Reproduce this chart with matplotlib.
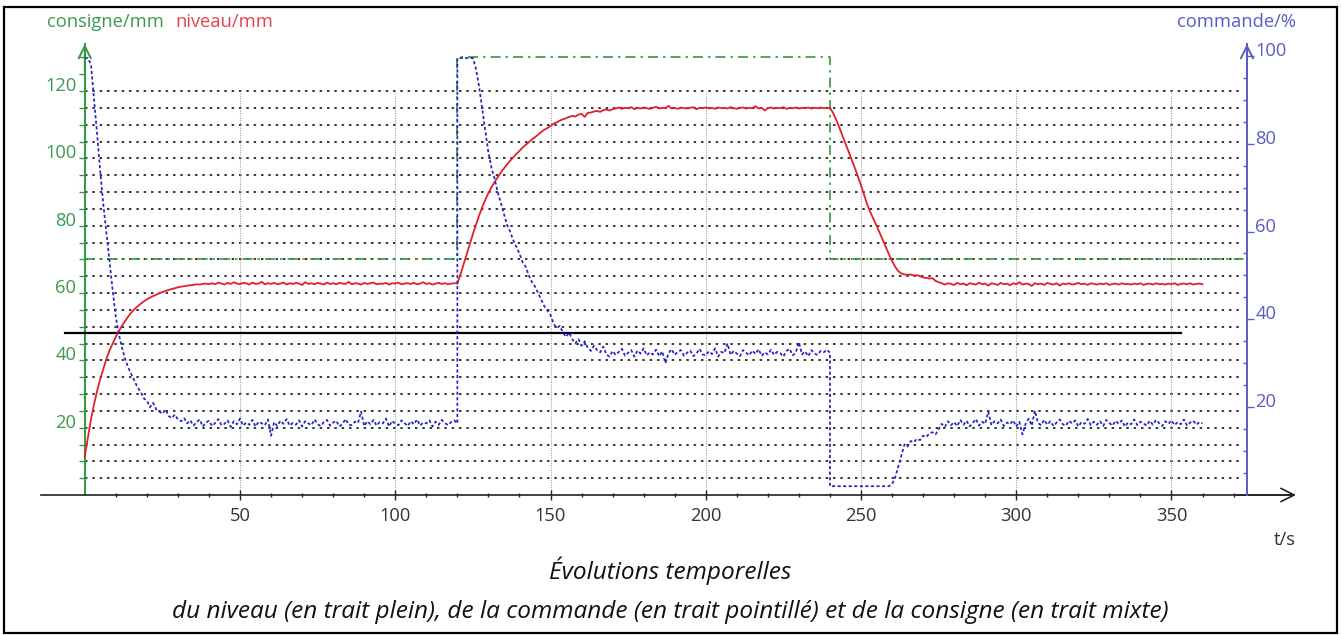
import numpy as np
import matplotlib
matplotlib.use("Agg")
import matplotlib.pyplot as plt
from matplotlib.patches import Rectangle

# ---------------- data ----------------
# niveau (mm), one sample per second, t = 0 .. 360 s
niveau_t = np.arange(0, 361)
niveau_1 = [11.5, 17.0, 22.5, 27.0, 31.0, 34.5, 37.5, 40.5, 43.0, 45.0,
            47.0, 48.7, 50.3, 51.7, 53.0, 54.2, 55.2, 56.0, 56.8, 57.5,
            58.1, 58.6, 59.1, 59.5, 59.9, 60.3, 60.6, 60.9, 61.2, 61.4,
            61.7, 61.9, 62.0, 62.2, 62.3, 62.4, 62.6, 62.5, 62.7, 62.8,
            62.6]
niveau_2 = [62.9, 62.6, 63.1, 62.8, 62.5, 63.0, 62.7, 63.2, 62.8, 62.6,
            63.0, 62.9, 62.5, 63.1, 62.7, 62.8, 63.3, 62.6, 62.9, 62.7,
            63.0, 62.6, 62.8, 63.1, 62.5, 62.9, 62.7, 63.0, 62.8, 62.4,
            63.2, 62.7, 62.9, 62.6, 63.0, 62.8, 62.5, 63.1, 62.7, 62.9,
            62.6, 63.0, 62.8, 62.7, 63.3, 62.6, 62.9, 62.8, 62.5, 63.0,
            62.7, 62.9, 63.1, 62.6, 62.8, 62.7, 63.0, 62.5, 62.9, 62.8,
            63.1, 62.6, 62.8, 62.9, 62.7, 63.0, 62.6, 62.8, 63.2, 62.7,
            62.9, 62.5, 62.8, 63.0, 62.7, 62.9, 62.6, 62.8, 62.9]
niveau_3 = [62.8, 65.5, 68.5, 71.5, 74.5, 77.5, 80.3, 83.0, 85.5, 87.7,
            89.7, 91.4, 93.0, 94.4, 95.8, 97.0, 98.2, 99.3, 100.3, 101.3,
            102.2, 103.2, 104.0, 104.8, 105.6, 106.3, 107.0, 107.8, 108.5, 109.0,
            109.6, 110.3, 110.7, 111.2, 111.6, 111.9, 112.3, 112.6, 112.4, 113.0,
            113.2, 112.3, 113.5, 113.6, 113.9, 114.1, 113.8, 114.3, 114.5, 114.2,
            114.6]
niveau_4 = [114.8, 115.1, 114.7, 115.0, 114.9, 115.2, 114.6, 115.0, 114.8, 115.1,
            114.9, 114.7, 115.0, 115.3, 114.8, 115.0, 114.9, 115.6, 114.8, 115.0,
            114.7, 115.1, 114.9, 114.8, 115.0, 115.2, 114.6, 115.0, 114.9, 115.1,
            114.8, 115.0, 114.7, 115.1, 114.9, 115.0, 114.8, 115.2, 114.9, 114.7,
            115.0, 115.1, 114.8, 115.0, 114.9, 115.5, 114.8, 115.0, 114.2, 114.9,
            115.1, 114.8, 115.0, 114.9, 115.2, 114.7, 115.0, 114.9, 115.1, 114.8,
            115.0, 114.9, 115.1, 114.8, 115.0, 114.9, 115.1, 114.9, 115.0]
niveau_5 = [115.0, 113.5, 111.5, 109.2, 106.8, 104.4, 102.0, 99.6, 97.2, 94.6,
            92.0, 89.2, 86.3, 84.0, 82.0, 80.0, 77.9, 75.8, 73.6, 71.5,
            69.5, 67.8, 66.5, 65.8, 65.5, 65.4, 65.5, 65.2, 65.3, 65.0,
            64.6, 64.5, 64.3, 64.4, 63.6, 63.2, 62.9]
niveau_6 = [62.5, 62.9, 62.7, 62.4, 63.0, 62.6, 62.8, 62.3, 62.9, 62.7,
            62.5, 63.1, 62.6, 62.8, 62.2, 62.9, 62.7, 62.4, 63.0, 62.6,
            62.8, 62.3, 62.9, 62.6, 63.2, 62.5, 62.8, 62.7, 62.1, 62.9,
            62.6, 62.8, 62.4, 63.0, 62.7, 62.5, 62.9, 62.2, 62.8, 62.6,
            62.9, 62.5, 62.7, 63.0, 62.6, 62.8, 62.4, 62.9, 62.7, 62.5,
            62.8, 62.6, 62.9, 62.4, 62.7, 62.8, 62.5, 62.9, 62.6, 62.7,
            62.5, 62.8, 62.6, 62.9, 62.4, 62.7, 62.8, 62.5, 62.9, 62.6,
            62.7, 62.5, 62.8, 62.6, 62.9, 62.4, 62.7, 62.8, 62.6, 62.9,
            62.5, 62.7, 62.8, 62.6]
niveau = niveau_1 + niveau_2 + niveau_3 + niveau_4 + niveau_5 + niveau_6

# commande (%), one sample per second, each phase includes its end instant
commande_t = np.concatenate([np.arange(0, 121), np.arange(120, 241), np.arange(240, 361)])
commande_1 = [99.5, 99.5, 98.0, 90.0, 82.0, 73.5, 66.0, 59.5, 53.0, 46.5,
              40.5, 36.5, 33.5, 31.0, 29.0, 27.5, 26.0, 24.5, 23.5, 22.0,
              21.5, 20.0, 21.0, 19.5, 19.0, 18.5, 19.5, 18.0, 17.5, 18.3,
              17.2, 16.8, 17.5, 16.3, 17.0, 15.8, 16.6, 17.2, 15.6, 16.5,
              16.9, 15.7, 16.4, 17.3, 15.9, 16.2, 17.0, 15.5, 16.8, 16.1,
              17.4, 15.8, 16.5, 16.0, 17.1, 15.6, 16.7, 16.3, 15.9, 17.2,
              13.5, 16.6, 15.7, 16.9, 16.2, 17.3, 15.8, 16.4, 16.0, 17.0,
              15.6, 16.8, 16.3, 15.9, 17.2, 16.1, 15.7, 16.6, 17.1, 15.8,
              16.5, 16.9, 15.6, 16.2, 17.3, 16.0, 15.9, 16.7, 16.4, 19.0,
              15.7, 16.8, 16.1, 17.1, 15.8, 16.6, 16.3, 17.4, 15.6, 16.9,
              16.2, 15.9, 17.0, 16.4, 15.7, 16.8, 16.1, 17.2, 15.8, 16.5,
              16.3, 17.0, 15.6, 16.7, 16.0, 17.1, 16.4, 15.9, 16.6, 17.0,
              16.3]
commande_2 = [99.5, 99.5, 99.5, 99.5, 99.5, 99.5, 97.0, 93.0, 88.0, 83.0,
              78.0, 74.5, 72.0, 69.0, 66.5, 64.0, 61.5, 60.0, 58.0, 56.5,
              55.0, 53.0, 52.0, 50.0, 48.5, 47.5, 46.0, 44.5, 43.0, 42.0,
              41.0, 39.0, 38.0, 38.5, 37.0, 36.0, 37.0, 35.5, 34.5, 35.5,
              34.0, 35.0, 33.5, 32.8, 34.0, 33.0, 32.5, 33.8, 32.0, 31.5,
              32.8, 31.9, 32.6, 33.3, 31.7, 32.4, 33.0, 31.5, 32.9, 32.2,
              33.4, 31.8, 32.5, 32.0, 33.1, 31.6, 32.7, 30.0, 32.3, 33.2,
              31.9, 32.6, 33.0, 31.7, 32.4, 32.9, 31.6, 32.2, 33.3, 32.0,
              31.8, 32.7, 32.1, 33.4, 31.5, 32.6, 32.3, 34.5, 31.9, 32.8,
              32.2, 31.6, 33.0, 32.4, 31.8, 32.9, 32.1, 33.2, 31.7, 32.5,
              32.0, 33.1, 31.9, 32.6, 32.3, 31.5, 32.8, 33.3, 31.8, 32.4,
              34.8, 32.0, 32.7, 31.6, 33.0, 32.2, 31.9, 32.8, 32.5, 33.1,
              32.4]
commande_3 = [2.0, 2.0, 2.0, 2.0, 2.0, 2.0, 2.0, 2.0, 2.0, 2.0,
              2.0, 2.0, 2.0, 2.0, 2.0, 2.0, 2.0, 2.0, 2.0, 2.0,
              2.5, 4.0, 6.5, 9.0, 11.5, 11.0, 12.3, 12.0, 12.8, 12.5,
              13.5, 13.2, 14.0, 14.3, 13.8, 15.0, 16.2, 15.5, 16.8, 15.9,
              16.6, 15.7, 17.1, 16.0, 16.9, 15.6, 16.4, 17.3, 15.8, 16.7,
              16.2, 19.0, 15.9, 16.8, 16.3, 17.2, 15.7, 16.5, 16.1, 17.0,
              15.6, 16.7, 13.8, 16.2, 17.4, 15.8, 19.2, 16.4, 15.9, 17.1,
              16.0, 16.8, 15.7, 16.5, 17.2, 16.1, 15.8, 16.9, 16.3, 17.0,
              15.6, 16.6, 16.2, 17.3, 15.9, 16.7, 16.0, 16.8, 15.7, 17.1,
              16.4, 15.8, 16.9, 16.2, 17.0, 15.6, 16.5, 16.1, 17.2, 15.9,
              16.7, 16.3, 15.8, 16.9, 16.0, 17.1, 16.4, 15.7, 16.8, 16.2,
              17.0, 15.9, 16.6, 16.1, 17.2, 15.8, 16.5, 16.9, 16.0, 16.6,
              16.3]
commande = commande_1 + commande_2 + commande_3

# consigne (mm), step set-points
consigne_t = [0, 120, 120, 240, 240, 374]
consigne = [70, 70, 130, 130, 70, 70]

ref_level = 48.1          # horizontal black reference line (mm)
ref_span = [-6.5, 353]

x_ticks = [50, 100, 150, 200, 250, 300, 350]
left_ticks = [20, 40, 60, 80, 100, 120]
right_ticks = [20, 40, 60, 80, 100]

# ---------------- style ----------------
W, H = 1341, 635
GREEN = '#2f9a3f'
GREEN_TXT = '#3c9a4e'
RED = '#e3202a'
BLUE = '#2323c8'
BLUE_AX = '#5a5ac8'
FONT = 'Open Sans'
TS = 13.2

fig = plt.figure(figsize=(W / 100, H / 100), dpi=100)
fig.patch.set_facecolor('white')

XMIN, XMAX = -14, 391
YMAX_L = 135.0
YMAX_R = 103.5
x_right_axis = 374.3

ax = fig.add_axes([41.3 / W, (H - 495) / H, 1257.5 / W, 454.5 / H])
ax.set_xlim(XMIN, XMAX)
ax.set_ylim(0, YMAX_L)
ax.patch.set_alpha(0)
ax2 = ax.twinx()
ax2.set_ylim(0, YMAX_R)
ax2.patch.set_alpha(0)

# grids
grid_levels = np.arange(5, 121, 5)
ax.hlines(grid_levels, 0, 373, colors='black', linestyles=(0, (1.6, 3.2)), lw=1.1, zorder=1)
ax.vlines(x_ticks, 0, 120, colors='#a0a0a0', linestyles=(0, (1, 1.2)), lw=0.8, zorder=1)

# reference line
ax.plot(ref_span, [ref_level, ref_level], color='black', lw=1.6, zorder=3)

# curves
ax.plot(consigne_t, consigne, color=GREEN, lw=1.2, dashes=(6, 3, 1.5, 3), zorder=2)
ax.plot(niveau_t, niveau, color=RED, lw=1.3, zorder=4)
ax2.plot(commande_t, commande, color=BLUE, lw=1.25, dashes=(1.8, 1.4), zorder=4)

# spines / axes
for s in ['top', 'right', 'left']:
    ax.spines[s].set_visible(False)
for s in ['top', 'left', 'bottom']:
    ax2.spines[s].set_visible(False)
ax.spines['left'].set_visible(True)
ax.spines['left'].set_position(('data', 0))
ax.spines['left'].set_color(GREEN)
ax.spines['left'].set_linewidth(1.4)
ax.spines['left'].set_bounds(0, 134)
ax.spines['bottom'].set_color('#222222')
ax.spines['bottom'].set_linewidth(1.2)
ax.spines['bottom'].set_bounds(XMIN, 389)
ax2.spines['right'].set_position(('data', x_right_axis))
ax2.spines['right'].set_color(BLUE_AX)
ax2.spines['right'].set_linewidth(1.4)
ax2.spines['right'].set_bounds(0, YMAX_R * 134 / 135)

# arrows
ax.annotate('', xy=(0, 134.8), xytext=(0, 125), xycoords='data',
            arrowprops=dict(arrowstyle='->', color=GREEN, lw=1.4, mutation_scale=22))
ax2.annotate('', xy=(x_right_axis, YMAX_R * 134.8 / 135), xytext=(x_right_axis, 95),
             arrowprops=dict(arrowstyle='->', color=BLUE_AX, lw=1.4, mutation_scale=22))
ax.annotate('', xy=(391, 0), xytext=(370, 0),
            arrowprops=dict(arrowstyle='->', color='#222222', lw=1.2, mutation_scale=24))

# ticks
ax.set_xticks(x_ticks)
ax.set_xticklabels([str(v) for v in x_ticks])
ax.set_xticks(np.arange(10, 371, 10), minor=True)
ax.tick_params(axis='x', which='major', direction='inout', length=7, width=1, color='#222222',
               labelsize=TS, labelcolor='#333333', pad=5)
ax.tick_params(axis='x', which='minor', direction='inout', length=3, width=1, color='#222222')
ax.set_yticks(left_ticks)
ax.set_yticklabels([str(v) for v in left_ticks])
ax.set_yticks(np.arange(5, 131, 5), minor=True)
ax.tick_params(axis='y', which='both', direction='out', length=4, width=1, color=GREEN,
               labelsize=TS, labelcolor=GREEN_TXT, pad=2)
for lbl in ax.get_yticklabels():
    lbl.set_verticalalignment('baseline')
ax2.set_yticks(right_ticks)
ax2.set_yticks(np.arange(5, 101, 5), minor=True)
ax2.set_yticklabels([str(v) for v in right_ticks])
ax2.tick_params(axis='y', which='major', direction='out', length=5, width=1, color=BLUE_AX,
                labelsize=TS, labelcolor=BLUE_AX, pad=1)
ax2.tick_params(axis='y', which='minor', direction='in', length=3, width=1, color=BLUE_AX)
for lbl in ax2.get_yticklabels():
    lbl.set_verticalalignment('baseline')
for lbl in ax.get_xticklabels() + ax.get_yticklabels() + ax2.get_yticklabels():
    lbl.set_fontfamily(FONT)

# axis titles
fig.text(47 / W, 1 - 22 / H, 'consigne/mm', color=GREEN_TXT, fontsize=TS, family=FONT,
         ha='left', va='center')
fig.text(175 / W, 1 - 22 / H, 'niveau/mm', color='#e8404a', fontsize=TS, family=FONT,
         ha='left', va='center')
fig.text(1296 / W, 1 - 22 / H, 'commande/%', color=BLUE_AX, fontsize=TS, family=FONT,
         ha='right', va='center')
fig.text(1285 / W, 1 - 540 / H, 't/s', color='#333333', fontsize=TS, family=FONT,
         ha='center', va='center')

# caption
fig.text(0.5, 1 - 571 / H, 'Évolutions temporelles', fontsize=17.6, style='italic', family=FONT,
         ha='center', va='center', color='#111111')
fig.text(0.5, 1 - 612 / H,
         'du niveau (en trait plein), de la commande (en trait pointillé) et de la consigne (en trait mixte)',
         fontsize=17.6, style='italic', family=FONT, ha='center', va='center', color='#111111')

# outer frame
fig.patches.append(Rectangle((4 / W, 2 / H), 1333 / W, 626 / H, transform=fig.transFigure,
                             fill=False, edgecolor='black', lw=1.6))

fig.savefig('out.png', dpi=100)
